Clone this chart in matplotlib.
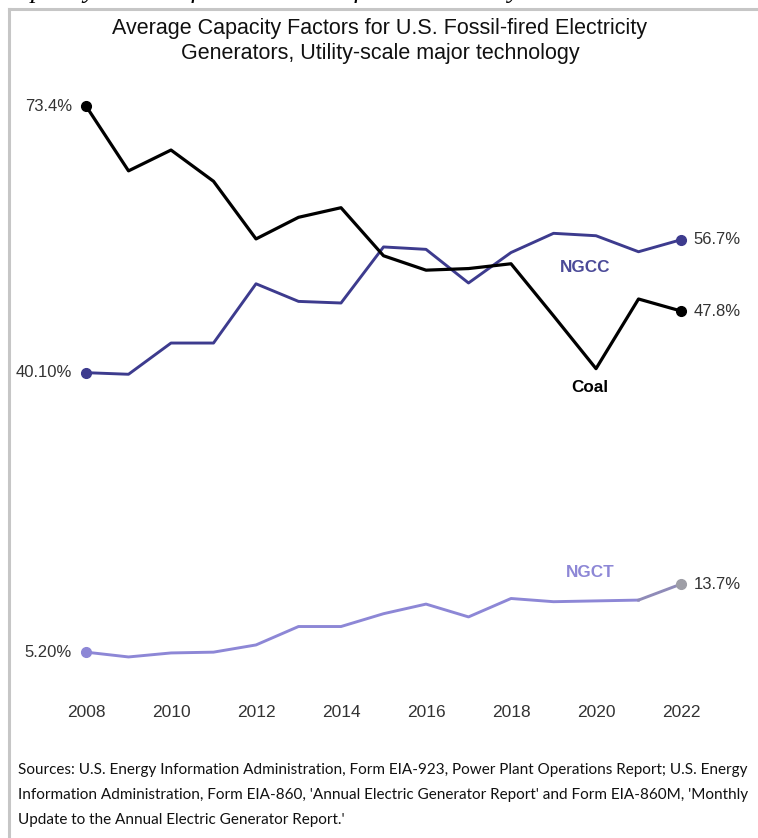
import matplotlib
matplotlib.use("Agg")
from matplotlib import pyplot as plt
from matplotlib.lines import Line2D

years = list(range(2008, 2023))
coal = [73.4, 65.3, 67.9, 64.0, 56.8, 59.5, 60.7, 54.7, 52.9, 53.1, 53.7, 47.2, 40.6, 49.3, 47.8]
ngcc = [40.1, 39.9, 43.8, 43.8, 51.2, 49.0, 48.8, 55.8, 55.5, 51.3, 55.1, 57.5, 57.2, 55.2, 56.7]
ngct = [5.2, 4.6, 5.1, 5.2, 6.1, 8.4, 8.4, 10.0, 11.2, 9.6, 11.9, 11.5, 11.6, 11.7, 13.7]

start_labels = ["73.4%", "40.10%", "5.20%"]
end_labels = ["47.8%", "56.7%", "13.7%"]
xtick_years = list(range(2008, 2023, 2))

title = "Average Capacity Factors for U.S. Fossil-fired Electricity\nGenerators, Utility-scale major technology"
sources = ("Sources: U.S. Energy Information Administration, Form EIA-923, Power Plant Operations Report; U.S. Energy\n"
           "Information Administration, Form EIA-860, 'Annual Electric Generator Report' and Form EIA-860M, 'Monthly\n"
           "Update to the Annual Electric Generator Report.'")

coal_color = "#000000"
ngcc_color = "#3d3b8e"
ngct_color = "#8d87d6"
ngct_end = "#9e9ea6"
label_color = "#333333"

W, H = 758, 838
fig = plt.figure(figsize=(W / 100, H / 100), dpi=100)
fig.patch.set_facecolor("white")

# grey frame running off the right and bottom edges
fig.add_artist(Line2D([9 / W, 9 / W], [1 - 9 / H, 0], color="#c6c6c6", lw=2.2))
fig.add_artist(Line2D([9 / W, 1], [1 - 9 / H, 1 - 9 / H], color="#c6c6c6", lw=2.2))

# caption line from the page above, only its descenders are on the page
fig.text(0, 1 + 2 / H, "Capacity Factors for U.S. Fossil-fired Electricity Generators",
         family="Liberation Serif", style="italic", fontsize=19, va="baseline", ha="left")

ax = fig.add_axes([60 / W, (H - 690) / H, 650 / W, 610 / H])
ax.set_xlim(2007.388, 2022.682)
ax.set_ylim(0.473, 76.647)
ax.patch.set_alpha(0)
for s in ax.spines.values():
    s.set_visible(False)
ax.set_yticks([])
ax.set_xticks(xtick_years)
ax.set_xticklabels([str(y) for y in xtick_years], family="Liberation Sans", fontsize=12.5, color=label_color)
ax.tick_params(axis="x", length=0, pad=11)

ax.plot(years, coal, color=coal_color, lw=2.3, zorder=3)
ax.plot(years, ngcc, color=ngcc_color, lw=2.1, zorder=2)
ax.plot(years[:-1], ngct[:-1], color=ngct_color, lw=2.1, zorder=2)
ax.plot(years[-2:], ngct[-2:], color="#8f8bb8", lw=2.1, zorder=2)

ax.plot(years[0], coal[0], "o", color=coal_color, ms=7, zorder=4)
ax.plot(years[-1], coal[-1], "o", color=coal_color, ms=7, zorder=4)
ax.plot(years[0], ngcc[0], "o", color=ngcc_color, ms=7, zorder=4)
ax.plot(years[-1], ngcc[-1], "o", color=ngcc_color, ms=7, zorder=4)
ax.plot(years[0], ngct[0], "o", color=ngct_color, ms=7, zorder=4)
ax.plot(years[-1], ngct[-1], "o", color=ngct_end, ms=7, zorder=4)

for series, lab in zip([coal, ngcc, ngct], start_labels):
    ax.annotate(lab, (years[0], series[0]), xytext=(-10, 0), textcoords="offset points",
                ha="right", va="center", fontsize=12, family="Liberation Sans", color=label_color)
for series, lab in zip([coal, ngcc, ngct], end_labels):
    ax.annotate(lab, (years[-1], series[-1]), xytext=(9, 0), textcoords="offset points",
                ha="left", va="center", fontsize=12, family="Liberation Sans", color=label_color)

ax.text(2019.74, 53.2, "NGCC", color="#4b4a98", fontsize=12.3, fontweight="bold",
        family="Liberation Sans", ha="center", va="center")
ax.text(2019.86, 38.2, "Coal", color=coal_color, fontsize=12.3, fontweight="bold",
        family="Liberation Sans", ha="center", va="center")
ax.text(2019.86, 15.2, "NGCT", color=ngct_color, fontsize=12.3, fontweight="bold",
        family="Liberation Sans", ha="center", va="center")

fig.text(380 / W, 1 - 41 / H, title, ha="center", va="center", fontsize=15.5,
         family="Liberation Sans", color="#111111", linespacing=1.22)

fig.text(18 / W, 1 - 763 / H, sources, ha="left", va="top", fontsize=11,
         family="Lato", color="#111111", linespacing=2.0)

fig.savefig("out.png", dpi=100)
